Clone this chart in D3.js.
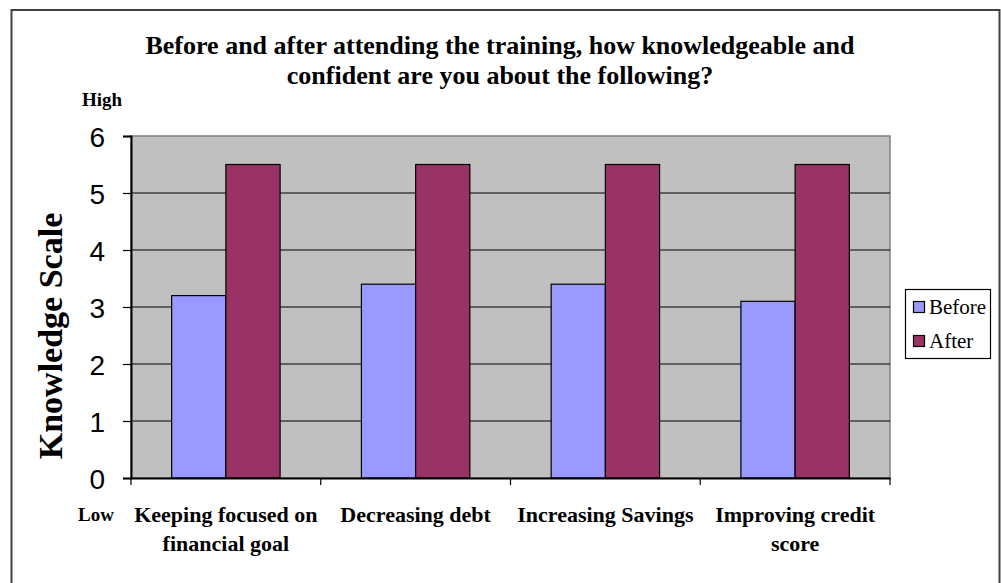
<!DOCTYPE html>
<html>
<head>
<meta charset="utf-8">
<script src="https://cdnjs.cloudflare.com/ajax/libs/d3/7.8.5/d3.min.js"></script>
<style>
  body { margin: 0; background: #fff; }
  svg text { font-family: "Liberation Serif", "Times New Roman", serif; }
</style>
</head>
<body>
<svg width="1001" height="583"></svg>
<script>
var categories = ["Keeping focused on financial goal", "Decreasing debt", "Increasing Savings", "Improving credit score"];
var categoryLines = [["Keeping focused on", "financial goal"], ["Decreasing debt"], ["Increasing Savings"], ["Improving credit", "score"]];
var seriesNames = ["Before", "After"];
var before = [3.2, 3.4, 3.4, 3.1];
var after = [5.5, 5.5, 5.5, 5.5];
var yTicks = [0, 1, 2, 3, 4, 5, 6];
var colors = ["#9999FF", "#993366"];

var svg = d3.select("svg");

// outer chart border (runs past the bottom of the picture)
svg.append("rect")
  .attr("x", 11.5).attr("y", 10)
  .attr("width", 988).attr("height", 600)
  .attr("fill", "none").attr("stroke", "#404040").attr("stroke-width", 2);

var margin = {left: 131, top: 136, right: 890, bottom: 478};

var x = d3.scaleBand().domain(categories).range([margin.left, margin.right]).padding(0);
var y = d3.scaleLinear().domain([0, 6]).range([margin.bottom, margin.top]);

// two bars per category, gap width 150%
var inner = d3.scaleBand().domain(seriesNames).range([0, x.bandwidth()]).paddingInner(0).paddingOuter(0.75);

// plot area
svg.append("rect")
  .attr("x", margin.left).attr("y", margin.top)
  .attr("width", margin.right - margin.left).attr("height", margin.bottom - margin.top)
  .attr("fill", "#C0C0C0").attr("stroke", "#808080").attr("stroke-width", 1.5);

// gridlines
svg.append("g").selectAll("line")
  .data(yTicks.filter(function(d) { return d > 0 && d < 6; }))
  .enter().append("line")
  .attr("x1", margin.left).attr("x2", margin.right)
  .attr("y1", function(d) { return y(d); }).attr("y2", function(d) { return y(d); })
  .attr("stroke", "#000").attr("stroke-width", 1);

var data = [];
categories.forEach(function(c, i) {
  data.push({cat: c, s: "Before", v: before[i]});
  data.push({cat: c, s: "After", v: after[i]});
});

svg.append("g").selectAll("rect")
  .data(data)
  .enter().append("rect")
  .attr("x", function(d) { return x(d.cat) + inner(d.s); })
  .attr("y", function(d) { return y(d.v); })
  .attr("width", inner.bandwidth())
  .attr("height", function(d) { return y(0) - y(d.v); })
  .attr("fill", function(d) { return colors[seriesNames.indexOf(d.s)]; })
  .attr("stroke", "#000").attr("stroke-width", 1.2);

// y axis
var yAxis = svg.append("g")
  .attr("transform", "translate(" + margin.left + ",0)")
  .call(d3.axisLeft(y).tickValues(yTicks).tickFormat(d3.format("d")).tickSize(8).tickPadding(18));
yAxis.select(".domain").attr("stroke", "#000").attr("stroke-width", 2);
yAxis.selectAll(".tick line").attr("stroke", "#000").attr("stroke-width", 1.2);
yAxis.selectAll("text")
  .style("font-family", "Liberation Sans, Arial, sans-serif")
  .style("font-size", "28px").attr("fill", "#000").attr("dy", "0.36em");

// x axis
var xAxis = svg.append("g")
  .attr("transform", "translate(0," + margin.bottom + ")")
  .call(d3.axisBottom(x).tickSize(0).tickFormat(""));
xAxis.select(".domain").attr("stroke", "#000").attr("stroke-width", 2);
var ticksX = categories.map(function(c) { return x(c); }).concat([margin.right]);
xAxis.selectAll(".cat-tick").data(ticksX).enter().append("line")
  .attr("x1", function(d) { return d; }).attr("x2", function(d) { return d; })
  .attr("y1", 0).attr("y2", 7).attr("stroke", "#000").attr("stroke-width", 1.2);

// category labels
categoryLines.forEach(function(lines, i) {
  var cx = x(categories[i]) + x.bandwidth() / 2;
  var t = svg.append("text")
    .attr("x", cx).attr("y", 522)
    .attr("text-anchor", "middle")
    .style("font-size", "22px").style("font-weight", "bold");
  lines.forEach(function(l, j) {
    t.append("tspan").attr("x", cx).attr("dy", j === 0 ? 0 : 29).text(l);
  });
});

// title
var title = svg.append("text").attr("text-anchor", "middle")
  .style("font-size", "26px").style("font-weight", "bold");
title.append("tspan").attr("x", 500).attr("y", 54).text("Before and after attending the training, how knowledgeable and");
title.append("tspan").attr("x", 500).attr("y", 84).text("confident are you about the following?");

// High / Low
svg.append("text").attr("x", 102).attr("y", 106).attr("text-anchor", "middle")
  .style("font-size", "19px").style("font-weight", "bold").text("High");
svg.append("text").attr("x", 96).attr("y", 521).attr("text-anchor", "middle")
  .style("font-size", "19px").style("font-weight", "bold").text("Low");

// y axis title
svg.append("text")
  .attr("transform", "translate(62,336) rotate(-90)")
  .attr("text-anchor", "middle")
  .style("font-size", "34px").style("font-weight", "bold")
  .text("Knowledge Scale");

// legend
var legend = svg.append("g");
legend.append("rect").attr("x", 905.5).attr("y", 289.5).attr("width", 85).attr("height", 69)
  .attr("fill", "#fff").attr("stroke", "#000").attr("stroke-width", 1.2);
seriesNames.forEach(function(s, i) {
  legend.append("rect").attr("x", 913.5).attr("y", 301.5 + i * 34).attr("width", 11).attr("height", 11)
    .attr("fill", colors[i]).attr("stroke", "#000").attr("stroke-width", 1.2);
  legend.append("text").attr("x", 929).attr("y", 314 + i * 34)
    .style("font-size", "21px").text(s);
});
</script>
</body>
</html>
